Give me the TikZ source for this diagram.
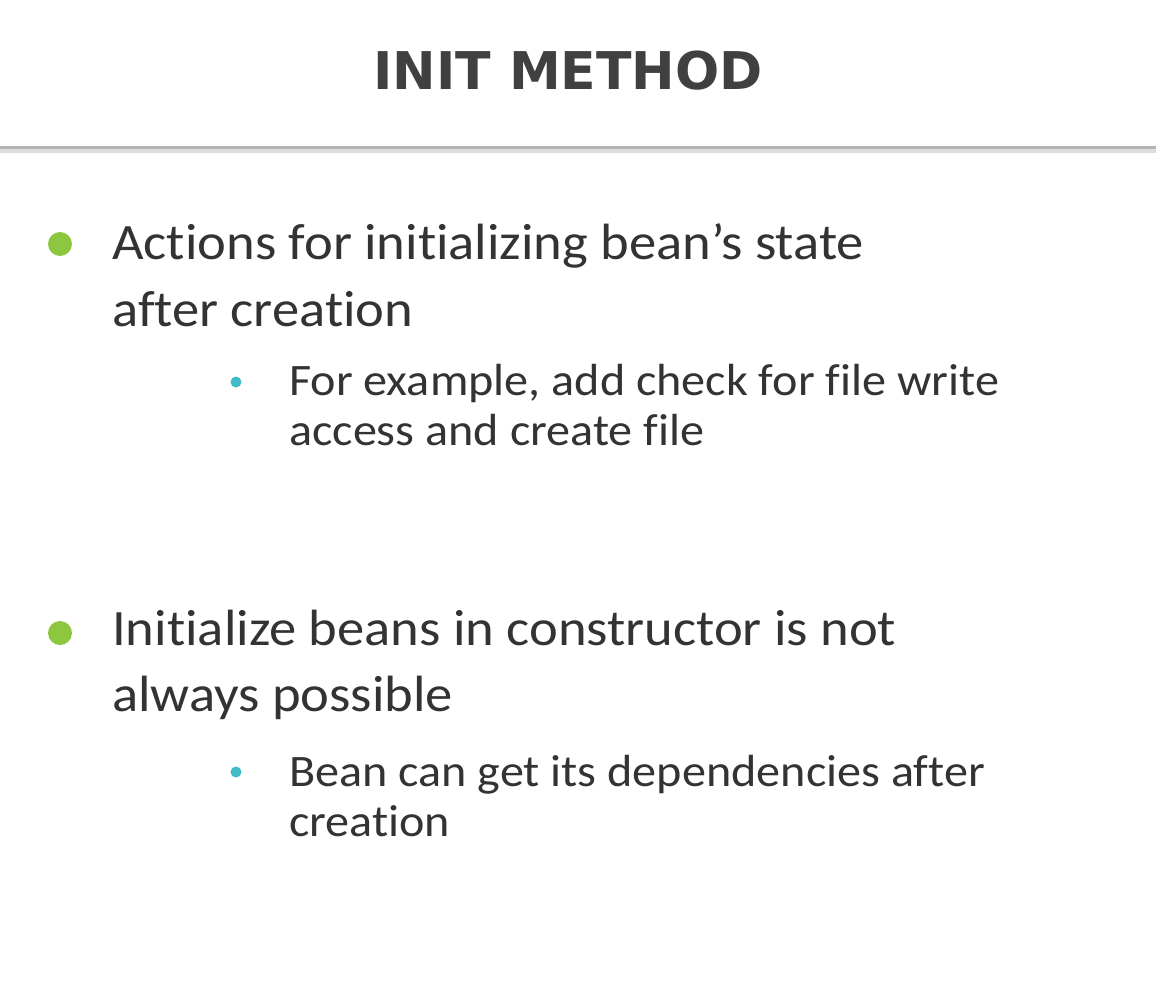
\documentclass[tikz,border=0pt]{standalone}
\usepackage{fontspec}
\setmainfont{Carlito}[FakeStretch=1.07, Ligatures={NoCommon,NoContextual}]
\newfontfamily\titlefont{DejaVu Sans}[BoldFont={DejaVu Sans Bold}]
\definecolor{bulletgreen}{HTML}{8DC63F}
\definecolor{bulletcyan}{HTML}{3FBCC8}
\definecolor{txt}{HTML}{333333}
\definecolor{titlegray}{HTML}{404040}
\definecolor{rule}{HTML}{B4B4B4}
\definecolor{ruleshadow}{HTML}{DDDDDD}
\tikzset{
  maintext/.style={anchor=base west, inner sep=0pt, text=txt, font=\fontsize{51}{60}\selectfont},
  subtext/.style={anchor=base west, inner sep=0pt, text=txt, font=\fontsize{45}{52}\selectfont},
  bigdot/.style={circle, fill=bulletgreen, minimum size=24pt, inner sep=0pt},
  smalldot/.style={circle, fill=bulletcyan, minimum size=11pt, inner sep=0pt},
}
\begin{document}
\begin{tikzpicture}[x=1pt,y=-1pt]
\useasboundingbox (0,0) rectangle (1156,995);
\fill[white] (0,0) rectangle (1156,995);
% header rule
\draw[ruleshadow, line width=4pt] (0,151) -- (1156,151);
\draw[rule, line width=3pt] (0,147.5) -- (1156,147.5);
% title
\node[anchor=base, inner sep=0pt, text=titlegray, font=\titlefont\bfseries\fontsize{52}{60}\selectfont] (title) at (568,90) {INIT METHOD};
% bullets
\node[bigdot] (b1) at (60,244) {};
\node[maintext] (l1) at (112,259) {Actions for initializing bean’s state};
\node[maintext] (l2) at (112,326) {after creation};
\node[smalldot] (s1) at (236,382) {};
\node[subtext] (s1a) at (289,395) {For example, add check for file write};
\node[subtext] (s1b) at (289,445) {access and create file};
\node[bigdot] (b2) at (60,633) {};
\node[maintext] (l3) at (112,645) {Initialize beans in constructor is not};
\node[maintext] (l4) at (112,711) {always possible};
\node[smalldot] (s2) at (236,772) {};
\node[subtext] (s2a) at (289,786) {Bean can get its dependencies after};
\node[subtext] (s2b) at (289,836) {creation};
\end{tikzpicture}
\end{document}
